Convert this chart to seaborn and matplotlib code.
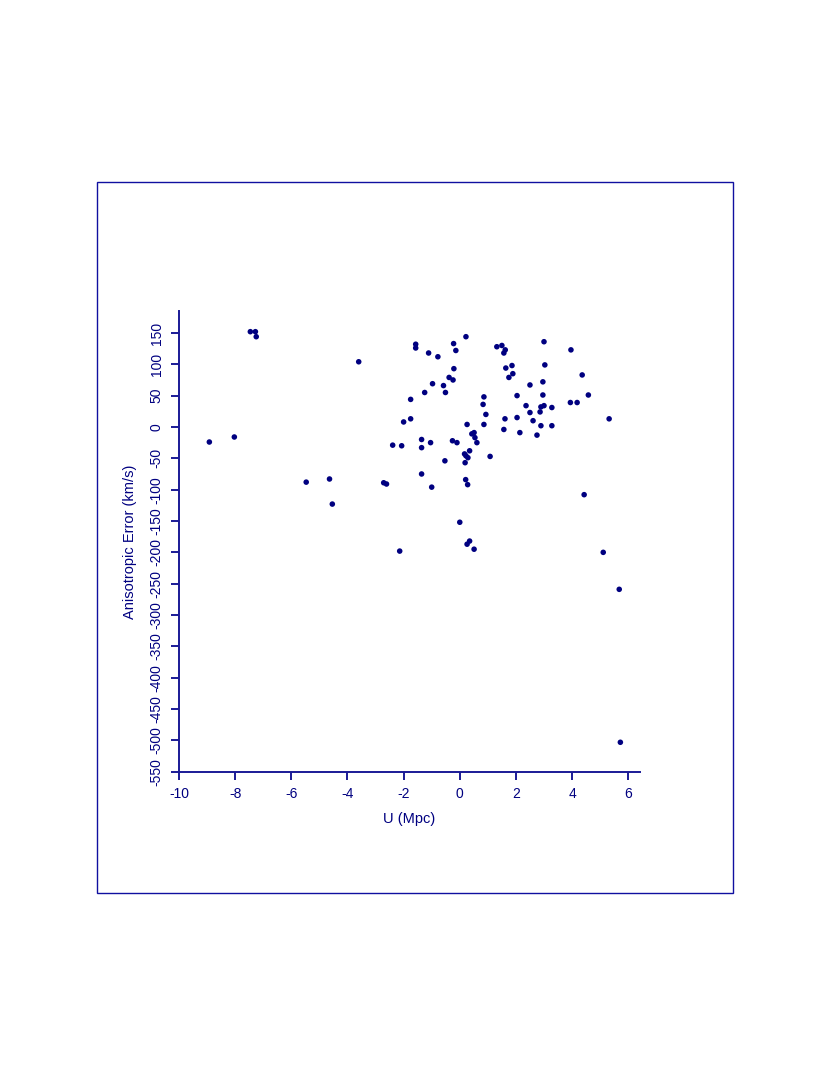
import matplotlib
matplotlib.use("Agg")
import matplotlib.pyplot as plt
from matplotlib.patches import Rectangle
import pandas as pd
import seaborn as sns

# values
u_mpc = [
    -8.92, -8.03, -7.46, -7.28, -7.25, -5.47, -4.64, -4.54, -3.60, -2.71, -2.61, 5.68, 5.72,
    0.22, -1.57, -1.57, -0.22, -0.14, -1.11, -0.78, 1.32, 1.50, 1.62, 1.57, 3.00, 3.96,
    -0.21, -0.38, -0.24, -0.97, -0.58, -0.51, -1.25, -1.75, -2.00, -1.75,
    1.64, 1.86, 1.89, 1.75, 3.03, 2.96, 4.36, 2.50, 4.58, 3.94, 4.18, 2.96, 2.04,
    0.86, 0.83, 0.93, 2.36, 2.89, 3.00, 3.28, 2.50, 2.86, 2.61, 2.04, 1.61, 2.89, 3.28, 5.32,
    0.86, 1.57, 2.14, 2.75, 0.26, 0.43, 0.51, 0.54, 0.61, -0.26, -0.10,
    -1.36, -1.36, -1.04, -2.39, -2.07, 0.35, 0.17, 0.22, 0.29, 0.19, 1.08, -0.53,
    -1.36, 0.21, 0.28, -1.00, 4.43, 0.00, 0.35, 0.26, 0.51, -2.14, 5.11,
]
aniso_err = [
    -24, -16, 152, 152, 144, -88, -83, -123, 104, -89, -91, -259, -503,
    144, 132, 126, 133, 122, 118, 112, 128, 130, 123, 118, 136, 123,
    93, 79, 75, 69, 66, 55, 55, 44, 8, 13,
    94, 98, 85, 79, 99, 72, 83, 67, 51, 39, 39, 51, 50,
    48, 36, 20, 34, 32, 34, 31, 23, 24, 10, 15, 13, 2, 2, 13,
    4, -4, -9, -13, 4, -11, -9, -17, -25, -22, -25,
    -20, -33, -25, -29, -30, -38, -43, -46, -49, -57, -47, -54,
    -75, -84, -92, -96, -108, -152, -182, -187, -195, -198, -200,
]
x_ticks = list(range(-10, 7, 2))
y_ticks = list(range(-550, 151, 50))

df = pd.DataFrame({"U": u_mpc, "err": aniso_err})

sns.set_style("ticks")
plt.rcParams["font.family"] = ["Liberation Sans", "DejaVu Sans"]

navy = "#000080"
line_col = "#1a1a96"

fig = plt.figure(figsize=(8.3, 10.75), dpi=100)
ax = fig.add_axes([0.2157, 0.2821, 0.7711 - 0.2157, 0.7107 - 0.2821])

sns.scatterplot(data=df, x="U", y="err", ax=ax, color=navy, s=16,
                edgecolor="none", linewidth=0)

ax.set_xlim(-10, 6.42)
ax.set_ylim(-550, 185)
ax.set_xticks(x_ticks)
ax.set_yticks(y_ticks)
ax.set_xticklabels([str(t) for t in x_ticks])
ax.set_yticklabels([str(t) for t in y_ticks], rotation=90, va="center")

ax.set_xlabel("U (Mpc)", fontsize=10.5, color=navy, labelpad=8)
ax.set_ylabel("Anisotropic Error (km/s)", fontsize=10.5, color=navy, labelpad=9)

for side in ["top", "right"]:
    ax.spines[side].set_visible(False)
for side in ["left", "bottom"]:
    ax.spines[side].set_color(line_col)
    ax.spines[side].set_linewidth(1.4)
ax.tick_params(axis="both", colors=line_col, labelcolor=navy, labelsize=10,
               length=6, width=1.4, direction="out", pad=5)

# outer frame around the whole plot
fig.add_artist(Rectangle((97 / 830, 1 - 893 / 1075), (733 - 97) / 830, (893 - 182) / 1075,
                         transform=fig.transFigure, fill=False, edgecolor="#1010a0",
                         linewidth=1.0))

fig.savefig("out.png", dpi=100)
